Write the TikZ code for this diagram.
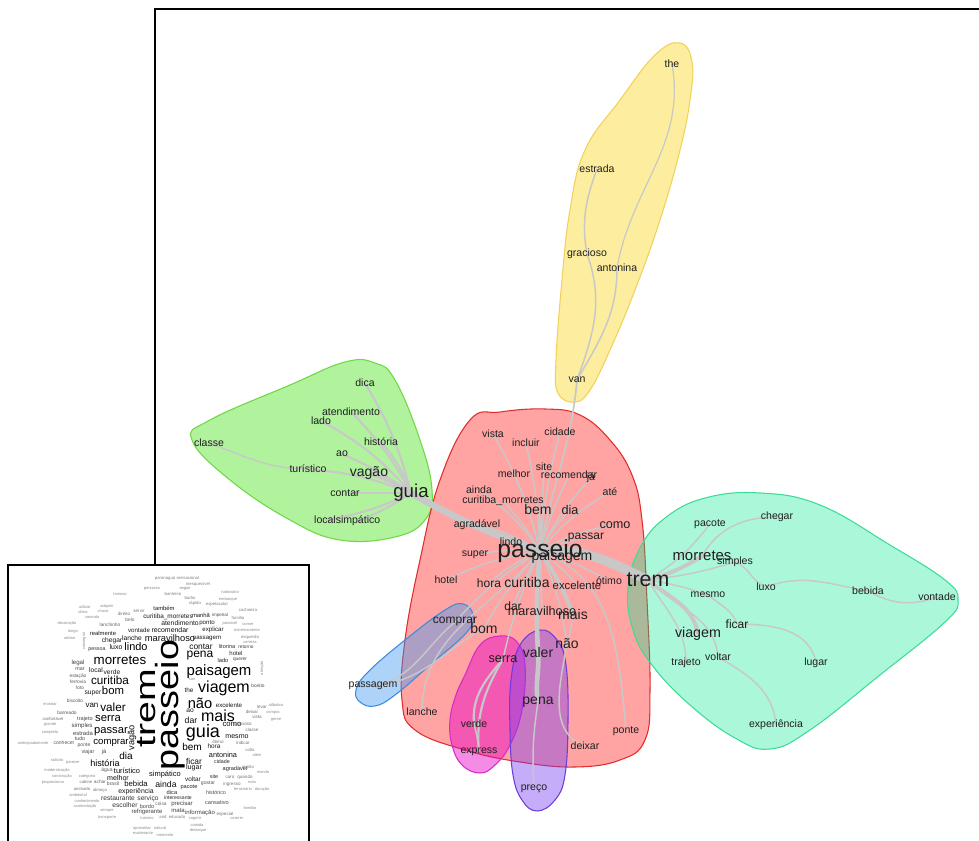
\documentclass[tikz,border=0pt]{standalone}
\usepackage{fontspec}
\usepackage{graphicx}
\setmainfont{Liberation Sans}
\pgfdeclarelayer{hulls}
\pgfdeclarelayer{links}
\pgfsetlayers{hulls,links,main}

\definecolor{linkgray}{RGB}{200,200,200}
\definecolor{hred}{RGB}{255,0,0}
\definecolor{hredline}{RGB}{225,45,45}
\definecolor{hgreen}{RGB}{70,225,20}
\definecolor{hgreenline}{RGB}{110,215,70}
\definecolor{hyellow}{RGB}{250,215,40}
\definecolor{hyellowline}{RGB}{240,210,90}
\definecolor{hteal}{RGB}{0,230,140}
\definecolor{htealline}{RGB}{60,220,150}
\definecolor{hblue}{RGB}{60,150,240}
\definecolor{hblueline}{RGB}{60,140,220}
\definecolor{hmag}{RGB}{230,0,200}
\definecolor{hmagline}{RGB}{220,40,200}
\definecolor{hpurple}{RGB}{120,60,240}
\definecolor{hpurpleline}{RGB}{110,60,220}

\tikzset{
  lbl/.style={inner sep=0pt, text=black!88, font=\fontsize{7.9}{8}\selectfont},
  lblm/.style={lbl, font=\fontsize{10.5}{11}\selectfont},
  link/.style={draw=linkgray, line width=1.1pt},
  linkm/.style={link, line width=2.2pt},
  hull/.style={line width=0.8pt},
  frameline/.style={line width=1.3pt, draw=black},
  cw/.style={inner sep=0pt},
}

\begin{document}
\begin{tikzpicture}[x=0.75pt, y=-0.75pt]
\useasboundingbox (0,0) rectangle (979,841);

% outer frame of the graph panel
\draw[frameline] (155,845) -- (155,9) -- (985,9);

% ---------- cluster hulls ----------
\begin{pgfonlayer}{hulls}
\filldraw[hull, fill=hyellow, fill opacity=0.45, draw=hyellowline]
  plot[smooth cycle, tension=0.7] coordinates {(680,43) (692,62) (690,100) (680,150) (660,220) (635,290) (610,350) (590,390) (575,402) (558,393) (556,360) (562,280) (570,210) (585,150) (620,100) (655,55)};
\filldraw[hull, fill=hgreen, fill opacity=0.42, draw=hgreenline]
  plot[smooth cycle, tension=0.7] coordinates {(192,440) (210,420) (290,385) (345,362) (375,363) (395,380) (420,440) (432,490) (425,520) (395,537) (340,540) (290,520) (230,480)};
\filldraw[hull, fill=hred, fill opacity=0.36, draw=hredline]
  plot[smooth cycle, tension=0.7] coordinates {(470,420) (500,412) (545,409) (580,415) (610,440) (632,475) (642,520) (647,600) (650,690) (645,740) (620,760) (575,767) (520,762) (465,750) (415,730) (402,700) (405,640) (420,560) (440,480)};
\filldraw[hull, fill=hteal, fill opacity=0.33, draw=htealline]
  plot[smooth cycle, tension=0.7] coordinates {(628,588) (640,548) (665,518) (705,498) (760,493) (820,505) (890,545) (945,580) (958,600) (945,622) (880,675) (810,730) (770,749) (735,738) (690,705) (652,665) (633,630)};
\filldraw[hull, fill=hblue, fill opacity=0.42, draw=hblueline]
  plot[smooth cycle, tension=0.7] coordinates {(356,690) (368,672) (405,640) (445,610) (463,604) (473,615) (467,632) (430,665) (395,695) (375,706) (360,702)};
\filldraw[hull, fill=hmag, fill opacity=0.45, draw=hmagline]
  plot[smooth cycle, tension=0.7] coordinates {(465,675) (480,645) (500,636) (517,642) (525,665) (522,710) (510,745) (495,765) (480,773) (462,765) (452,745) (450,720) (456,695)};
\filldraw[hull, fill=hpurple, fill opacity=0.42, draw=hpurpleline]
  plot[smooth cycle, tension=0.7] coordinates {(511,680) (520,645) (540,630) (557,640) (566,665) (568,720) (565,775) (555,800) (537,811) (522,800) (513,775) (510,730)};
\end{pgfonlayer}

% ---------- words ----------
% yellow group
\node[lbl] (the) at (672,64) {the};
\node[lbl] (estrada) at (597,169) {estrada};
\node[lbl] (gracioso) at (587,254) {gracioso};
\node[lbl] (antonina) at (617,268) {antonina};
\node[lbl] (van) at (577,380) {van};

% green group
\node[lbl] (dica) at (365,383) {dica};
\node[lbl] (atendimento) at (351,412) {atendimento};
\node[lbl] (lado) at (321,421) {lado};
\node[lbl] (historia) at (381,442) {história};
\node[lbl] (classe) at (209,443) {classe};
\node[lbl] (ao) at (342,454) {ao};
\node[lbl] (turistico) at (308,469) {turístico};
\node[lblm] (vagao) at (369,473) {vagão};
\node[lbl, font=\fontsize{14}{14}\selectfont] (guia) at (411,493) {guia};
\node[lbl] (contar) at (345,493) {contar};
\node[lbl] (local) at (325,520) {local};
\node[lbl] (simpatico) at (358,521) {simpático};

% red group
\node[lbl] (vista) at (493,434) {vista};
\node[lbl] (incluir) at (526,443) {incluir};
\node[lbl] (cidade) at (560,432) {cidade};
\node[lbl] (site) at (544,467) {site};
\node[lbl] (melhor) at (514,474) {melhor};
\node[lbl] (recomendar) at (569,475) {recomendar};
\node[lbl] (ja) at (591,478) {já};
\node[lbl] (ainda) at (479,490) {ainda};
\node[lbl] (ate) at (610,492) {até};
\node[lbl] (curmor) at (503,501) {curitiba\_morretes};
\node[lblm] (bem) at (538,509) {bem};
\node[lbl, font=\fontsize{9.5}{10}\selectfont] (dia) at (570,510) {dia};
\node[lbl] (agradavel) at (477,525) {agradável};
\node[lbl, font=\fontsize{9.5}{10}\selectfont] (como) at (615,525) {como};
\node[lbl, font=\fontsize{9}{10}\selectfont] (passar) at (586,538) {passar};
\node[lbl] (lindo) at (511,542) {lindo};
\node[lbl, font=\fontsize{18.5}{19}\selectfont] (passeio) at (540,551) {passeio};
\node[lblm] (paisagem) at (562,557) {paisagem};
\node[lbl] (super) at (475,555) {super};
\node[lbl] (hotel) at (446,580) {hotel};
\node[lbl, font=\fontsize{9}{10}\selectfont] (hora) at (489,583) {hora};
\node[lblm] (curitiba) at (527,582) {curitiba};
\node[lbl, font=\fontsize{8.5}{9}\selectfont] (excelente) at (577,585) {excelente};
\node[lbl] (otimo) at (609,581) {ótimo};
\node[lbl, font=\fontsize{9}{10}\selectfont] (dar) at (513,606) {dar};
\node[lbl, font=\fontsize{9.5}{10}\selectfont] (maravilhoso) at (542,611) {maravilhoso};
\node[lblm] (mais) at (573,614) {mais};
\node[lbl, font=\fontsize{9}{10}\selectfont] (comprar) at (455,622) {comprar};
\node[lblm] (bom) at (484,628) {bom};
\node[lblm] (nao) at (567,644) {não};
\node[lblm] (valer) at (538,652) {valer};
\node[lbl, font=\fontsize{9.5}{10}\selectfont] (serra) at (503,659) {serra};
\node[lbl] (passagem) at (373,686) {passagem};
\node[lblm] (pena) at (538,702) {pena};
\node[lbl] (lanche) at (422,712) {lanche};
\node[lbl] (verde) at (474,724) {verde};
\node[lbl] (ponte) at (626,731) {ponte};
\node[lbl] (deixar) at (585,746) {deixar};
\node[lbl] (express) at (479,752) {express};
\node[lbl] (preco) at (534,789) {preço};

% teal group
\node[lbl, font=\fontsize{16}{16}\selectfont] (trem) at (648,580) {trem};
\node[lbl] (pacote) at (710,524) {pacote};
\node[lbl] (chegar) at (777,517) {chegar};
\node[lbl, font=\fontsize{11.2}{12}\selectfont] (morretes) at (702,556) {morretes};
\node[lbl] (simples) at (735,562) {simples};
\node[lbl] (luxo) at (766,587) {luxo};
\node[lbl] (bebida) at (868,591) {bebida};
\node[lbl] (vontade) at (937,597) {vontade};
\node[lbl] (mesmo) at (708,595) {mesmo};
\node[lbl, font=\fontsize{9}{10}\selectfont] (ficar) at (737,624) {ficar};
\node[lbl, font=\fontsize{10.7}{11}\selectfont] (viagem) at (698,634) {viagem};
\node[lbl] (trajeto) at (686,663) {trajeto};
\node[lbl] (voltar) at (718,657) {voltar};
\node[lbl] (lugar) at (816,663) {lugar};
\node[lbl] (experiencia) at (776,725) {experiência};

% ---------- links ----------
\begin{pgfonlayer}{links}
% strong links between the hubs
\draw[link, line width=7pt] (passeio.center) to[out=5, in=155] (trem.center);
\draw[link, line width=5pt] (passeio.center) to[out=160, in=-30] (guia.center);
\draw[link, line width=1.3pt] (passeio.center) to[out=80, in=-95] (van.center);
% red group
\foreach \w/\b in {vista/-8, incluir/-5, cidade/5, site/0, melhor/-5, recomendar/5, ja/8,
                   ainda/-10, ate/10, curmor/-6, dia/8, agradavel/-10, como/10, passar/6,
                   lindo/-5, super/-8, hotel/-8, hora/-8, curitiba/-4, excelente/6, otimo/6,
                   dar/-4, maravilhoso/0, bom/-6, nao/8, serra/-6, comprar/-8}
  \draw[link] (passeio.center) to[bend left=\b] (\w.center);
\draw[linkm] (passeio.center) to[bend left=-4] (bem.center);
\draw[linkm, line width=3pt] (passeio.center) to (paisagem.center);
\draw[linkm, line width=3pt] (passeio.center) to[bend left=6] (mais.center);
\draw[linkm, line width=3.5pt] (passeio.center) to[bend left=-4] (valer.center);
\draw[link] (passeio.center) to[out=-130, in=90] (lanche.center);
\draw[link] (passeio.center) to[out=-20, in=95] (ponte.center);
\draw[linkm, line width=3.5pt] (valer.center) to[out=-85, in=100] (pena.center);
\draw[link] (pena.center) to[bend right=6] (preco.center);
\draw[link] (mais.center) to[bend left=5] (nao.center);
\draw[link] (nao.center) to[out=-100, in=160] (deixar.center);
\draw[link, line width=1.6pt] (serra.center) to[out=-130, in=95] (verde.center);
\draw[link, line width=1.6pt] (serra.center) to[out=-120, in=95] (express.center);
\draw[link] (verde.center) to[bend left=5] (express.center);
\draw[link] (comprar.center) to[out=-140, in=10] (passagem.center);
\draw[link] (bom.center) to[out=-150, in=5] (passagem.center);
% yellow group
\draw[link, line width=0.9pt] (the.center) to[out=-80, in=80] (antonina.center);
\draw[link] (antonina.center) to[out=-90, in=60] (van.center);
\draw[link] (estrada.center) to[out=-110, in=100] (gracioso.center);
\draw[link] (gracioso.center) to[out=-70, in=70] (van.center);
% green group
\foreach \w/\b in {historia/-10, dica/-8, atendimento/-8, lado/-10, ao/-6, turistico/-8,
                   contar/0, local/8, simpatico/6}
  \draw[link, line width=1.6pt] (guia.center) to[bend left=\b] (\w.center);
\draw[linkm, line width=3pt] (guia.center) to[bend left=-6] (vagao.center);
\draw[link] (turistico.center) to[out=180, in=-20] (classe.center);
% teal group
\draw[linkm, line width=3pt] (trem.center) to[bend left=-8] (morretes.center);
\draw[linkm, line width=3pt] (trem.center) to[out=-40, in=100] (viagem.center);
\draw[link] (trem.center) to[bend left=-10] (pacote.center);
\draw[link] (morretes.center) to[out=60, in=180] (chegar.center);
\draw[link] (trem.center) to[bend left=-5] (simples.center);
\draw[link] (simples.center) to[out=-20, in=160] (luxo.center);
\draw[link] (luxo.center) to[out=20, in=170] (bebida.center);
\draw[link] (bebida.center) to[out=-30, in=200] (vontade.center);
\draw[link] (trem.center) to[bend left=5] (mesmo.center);
\draw[link] (mesmo.center) to[out=-40, in=110] (ficar.center);
\draw[link] (ficar.center) to[out=0, in=100] (lugar.center);
\draw[link] (trem.center) to[out=-60, in=90] (trajeto.center);
\draw[link] (trem.center) to[out=-45, in=95] (voltar.center);
\draw[link] (voltar.center) to[out=-30, in=95] (experiencia.center);
\end{pgfonlayer}

% ---------- word cloud panel ----------
\filldraw[frameline, fill=white] (8,565) rectangle (309,850);
% the two dominant words, set vertically and stretched along their length
\node[cw, rotate=90, font=\fontsize{24}{24}\selectfont] (cwpasseio) at (170,705) {\scalebox{1.18}[1]{passeio}};
\node[cw, rotate=90, font=\fontsize{21}{21}\selectfont] (cwtrem) at (147,708) {\scalebox{1.4}[1]{trem}};
\begin{scope}[every node/.style={cw}]
\foreach \x/\y/\s/\g/\r/\t [count=\k] in {
  120/660/10/100/0/morretes, 110/680/8.8/100/0/curitiba, 113/690/8.5/100/0/bom,
  113/707/8.8/100/0/valer, 108/719/8.5/100/0/serra, 111/732/8.4/100/0/passar,
  111/743/7.2/100/0/comprar, 126/756/7.5/100/0/dia, 105/763/6.8/100/0/história,
  127/771/5.6/95/0/turístico, 118/778/5.3/95/0/melhor, 136/784/5.8/95/0/bebida,
  136/792/5.2/90/0/experiência, 136/647/8.2/100/0/lindo, 116/647/5.2/95/0/luxo,
  132/638/5/95/0/lanche, 112/641/5/90/0/chegar, 103/633/4.4/90/0/realmente,
  139/630/4.6/90/0/vontade, 170/630/5.2/95/0/recomendar, 213/630/4.6/90/0/explicar,
  170/638/7/95/0/maravilhoso, 207/638/4.6/90/0/passagem, 180/623/5.1/90/0/atendimento,
  207/623/4.6/90/0/ponto, 168/617/4.8/90/0/curitiba\_morretes, 201/615/4.4/90/0/manhã,
  220/615/3.4/70/0/imperial, 164/608/4.4/90/0/também, 201/647/6.3/95/0/contar,
  227/646/4.2/80/0/litorina, 246/647/3.6/75/0/retorno, 200/656/9/100/0/pena,
  236/653/4.5/85/0/hotel, 223/660/4.3/85/0/lado, 240/660/3.6/75/0/querer,
  219/672/11.2/100/0/paisagem, 224/688/12/100/0/viagem, 189/690/4.8/90/0/the,
  258/686/3.6/70/0/bonito, 200/703/11/100/0/não, 229/705/4.6/90/0/excelente,
  218/716/12/100/0/mais, 190/711/5/90/0/ao, 191/720/6.5/95/0/dar,
  203/733/13.5/100/0/guia, 232/724/5.8/95/0/como, 237/737/5.3/95/0/mesmo,
  192/747/7.5/100/0/bem, 214/746/4.8/90/0/hora, 223/755/5.5/95/0/antonina,
  194/761/6.3/95/0/ficar, 222/762/4/85/0/cidade, 194/768/5.3/95/0/lugar,
  235/769/4.2/85/0/agradável, 165/775/5.6/95/0/simpático, 193/779/4.8/90/0/voltar,
  214/777/4/85/0/site, 166/784/6.5/95/0/ainda, 189/787/4.2/85/0/pacote,
  172/792/4.3/85/0/dica, 178/798/3.8/85/0/interessante, 93/693/5/90/0/super,
  96/670/5/90/0/local, 112/672/5/90/0/verde, 92/705/6/95/0/van,
  97/650/4/80/0/pessoa, 132/738/6.9/95/90/vagão,
  78/663/4.6/75/0/legal, 80/669/4/70/0/mar, 78/676/3.6/65/0/estação,
  78/682/3.6/65/0/ferrovia, 80/688/3.6/65/0/foto, 75/701/3.6/65/0/biscoito,
  67/713/3.6/65/0/barreado, 85/719/4.2/70/0/trajeto, 53/719/3.2/55/0/confortável,
  82/726/4.6/75/0/simples, 83/733/4.4/75/0/estrada, 80/739/4/70/0/tudo,
  64/743/3.8/65/0/conhecer, 84/745/3.8/65/0/ponte, 88/752/4/70/0/viajar,
  104/752/4.2/75/0/já, 107/770/3.8/65/0/água, 113/784/3.8/65/0/brasil,
  100/782/3.6/60/0/achar, 86/782/3.2/55/0/cabine, 82/789/3.2/55/0/animado,
  100/790/3.2/55/0/almoço, 118/798/5/80/0/restaurante, 148/799/5/80/0/serviço,
  125/805/5/80/0/escolher, 147/806/4.2/70/0/bordo, 147/812/4.5/75/0/refrigerante,
  182/804/4.5/75/0/precisar, 161/804/3.6/60/0/coisa, 178/811/4.5/75/0/mata,
  200/813/4.5/75/0/informação, 225/814/3.4/55/0/especial, 216/793/4/70/0/histórico,
  217/802/4.2/70/0/cansativo, 208/783/3.8/65/0/gostar, 230/777/3.4/55/0/caro,
  245/777/3.4/55/0/quando, 232/784/3.4/55/0/ingresso,
  177/578/3.2/50/0/paranaguá sensacional, 198/584/3.2/50/0/inesquecível,
  185/588/3/50/0/seguir, 152/589/3/50/0/percurso, 173/594/3.2/50/0/banheiro,
  190/598/3.2/50/0/barão, 195/603/3.2/50/0/rápido, 230/592/3/45/0/rodoviário,
  228/599/3/45/0/embarque, 217/604/3.2/50/0/espetacular, 248/610/3.2/50/0/cachoeira,
  238/618/3.2/50/0/família, 230/623/3/45/0/possível, 248/624/3/45/0/comer,
  247/630/3/45/0/extremamente, 250/637/3.2/50/0/esquerdo, 250/642/3/45/0/certeza,
  124/614/3.4/55/0/direito, 139/611/3.4/55/0/servir, 130/620/3.6/60/0/belo,
  110/625/3.6/60/0/lanchinho, 67/623/3/45/0/decoração, 107/606/3/45/0/adquirir,
  103/611/3/45/0/chuva, 120/594/3/45/0/famoso, 85/607/3/45/0/utilizar,
  83/612/3/45/0/clima, 92/617/3/45/0/varanda, 73/631/3/45/0/longo,
  70/638/3/45/0/adorar, 84/641/3/45/90/conseguir, 50/704/3/45/0/mostrar,
  50/724/3/45/0/grande, 50/732/3/45/0/completo, 33/743/3/45/0/antecipadamente,
  57/760/3/45/0/solícito, 73/763/3/45/0/parecer, 57/770/3/45/0/modernização,
  62/776/3/45/0/construção, 87/776/3/45/0/categoria, 53/782/3/45/0/proporcionar,
  78/795/3/45/0/ambiental, 87/801/3/45/0/conhecimento, 85/806/3/45/0/acomodação,
  107/811/3/45/0/sempre, 107/818/3/45/0/transporte, 147/818/3/45/0/turismo,
  163/817/3.2/50/0/and, 177/817/3.2/50/0/educado, 195/818/3/45/0/sugerir,
  237/818/3/45/0/ocorrer, 197/825/3/45/0/comida, 198/830/3/45/0/destaque,
  160/828/3/45/0/natural, 165/835/3/45/0/momento, 142/828/3/45/0/aproveitar,
  143/833/3/45/0/exuberante, 252/782/3/45/0/nota, 243/789/3/45/0/ferroviário,
  262/789/3/45/0/duração, 250/808/3/45/0/familiar, 248/767/3.2/50/0/região,
  263/772/3/45/0/mundo, 257/755/3/45/0/além, 250/750/3.2/50/0/volta,
  243/743/3.4/55/0/indicar, 243/724/3.4/55/0/gracioso, 252/730/3.4/55/0/classe,
  276/720/3/45/0/gente, 262/707/3.4/55/0/levar, 252/712/3.4/55/0/deixar,
  257/717/3.4/55/0/vista, 276/705/3/45/0/atlântico, 273/713/3/45/0/compra,
  218/742/3.4/55/0/ótimo, 192/679/3/45/0/sair, 262/668/3/45/90/atenção}
  \node[text=black!\g, rotate=\r, font=\fontsize{\s}{\s}\selectfont] (cw\k) at (\x,\y) {\t};
\end{scope}

\end{tikzpicture}
\end{document}
